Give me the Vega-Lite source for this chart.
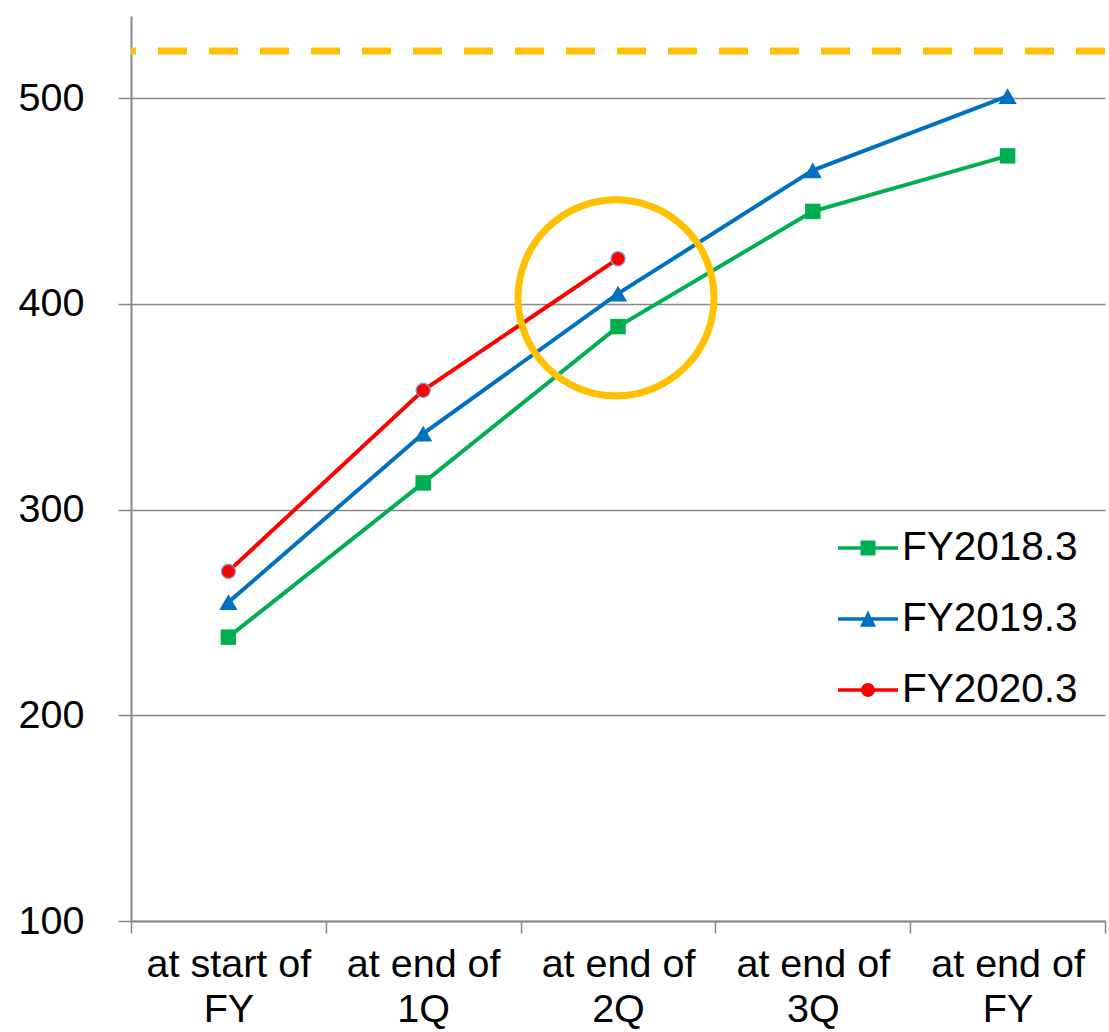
{
  "$schema": "https://vega.github.io/schema/vega-lite/v6.json",
  "width": 974,
  "height": 905,
  "autosize": {"type": "none"},
  "padding": {"left": 131, "top": 16, "right": 4, "bottom": 111},
  "background": "white",
  "config": {
    "view": {"stroke": null},
    "font": "Liberation Sans",
    "axis": {"labelFont": "Liberation Sans", "labelColor": "#000000", "labelFontSize": 39.5, "domainColor": "#898989", "tickColor": "#898989", "gridColor": "#898989"}
  },
  "datasets": {
    "series": [
      {"cat": "at start of|FY", "series": "FY2018.3", "v": 238},
      {"cat": "at end of|1Q", "series": "FY2018.3", "v": 313},
      {"cat": "at end of|2Q", "series": "FY2018.3", "v": 389},
      {"cat": "at end of|3Q", "series": "FY2018.3", "v": 445},
      {"cat": "at end of|FY", "series": "FY2018.3", "v": 472},
      {"cat": "at start of|FY", "series": "FY2019.3", "v": 255},
      {"cat": "at end of|1Q", "series": "FY2019.3", "v": 337},
      {"cat": "at end of|2Q", "series": "FY2019.3", "v": 405},
      {"cat": "at end of|3Q", "series": "FY2019.3", "v": 465},
      {"cat": "at end of|FY", "series": "FY2019.3", "v": 501},
      {"cat": "at start of|FY", "series": "FY2020.3", "v": 270},
      {"cat": "at end of|1Q", "series": "FY2020.3", "v": 358},
      {"cat": "at end of|2Q", "series": "FY2020.3", "v": 422}
    ]
  },
  "layer": [
    {
      "data": {"values": [{"target": 523}]},
      "mark": {"type": "rule", "color": "#FFC000", "strokeWidth": 7, "strokeDash": [29, 22]},
      "encoding": {"y": {"field": "target", "type": "quantitative"}}
    },
    {
      "data": {"name": "series"},
      "mark": {"type": "line", "strokeWidth": 4},
      "encoding": {
        "x": {
          "field": "cat", "type": "nominal", "sort": null,
          "scale": {"domain": ["at start of|FY", "at end of|1Q", "at end of|2Q", "at end of|3Q", "at end of|FY"], "paddingInner": 0, "paddingOuter": 0},
          "axis": {"title": null, "labelExpr": "split(datum.label, '|')", "labelAngle": 0, "labelBaseline": "top", "labelLineHeight": 45, "labelPadding": 12, "tickSize": 12, "tickWidth": 1.5, "tickBand": "extent", "domainWidth": 2, "labelLimit": 400, "grid": false}
        },
        "y": {
          "field": "v", "type": "quantitative",
          "scale": {"domain": [100, 540], "nice": false, "zero": false},
          "axis": {"title": null, "values": [100, 200, 300, 400, 500], "tickSize": 13, "tickWidth": 1.5, "labelPadding": 34, "domainWidth": 2, "gridWidth": 1.3}
        },
        "color": {
          "field": "series", "type": "nominal",
          "scale": {"domain": ["FY2018.3", "FY2019.3", "FY2020.3"], "range": ["#00B050", "#0070C0", "#FF0000"]},
          "legend": {
            "title": null, "orient": "none", "legendX": 707, "legendY": 502, "padding": 0,
            "labelFont": "Liberation Sans", "labelFontSize": 40.5, "labelColor": "#000000", "labelOffset": 4, "labelLimit": 400,
            "symbolSize": 3600, "rowPadding": 20,
            "encode": {
              "symbols": {
                "update": {
                  "shape": {"signal": "datum.value == 'FY2018.3' ? 'M-1,-0.06H1V0.06H-1Z M-0.25,-0.25H0.25V0.25H-0.25Z' : datum.value == 'FY2019.3' ? 'M-1,-0.06H1V0.06H-1Z M0,-0.28L0.27,0.26H-0.27Z' : 'M-1,-0.06H1V0.06H-1Z M0.23,0A0.23,0.23 0 1,1 -0.23,0A0.23,0.23 0 1,1 0.23,0Z'"},
                  "fill": {"scale": "color", "field": "value"},
                  "fillOpacity": {"value": 1},
                  "strokeWidth": {"value": 0}
                }
              }
            }
          }
        }
      }
    },
    {
      "data": {"name": "series"},
      "transform": [{"filter": "datum.series == 'FY2018.3'"}],
      "mark": {"type": "point", "shape": "square", "filled": true, "opacity": 1, "size": 240, "strokeWidth": 0},
      "encoding": {
        "x": {"field": "cat", "type": "nominal", "sort": null},
        "y": {"field": "v", "type": "quantitative"},
        "color": {"field": "series", "type": "nominal", "legend": null}
      }
    },
    {
      "data": {"name": "series"},
      "transform": [{"filter": "datum.series == 'FY2019.3'"}],
      "mark": {"type": "point", "shape": "triangle-up", "filled": true, "opacity": 1, "size": 330, "strokeWidth": 0},
      "encoding": {
        "x": {"field": "cat", "type": "nominal", "sort": null},
        "y": {"field": "v", "type": "quantitative"},
        "color": {"field": "series", "type": "nominal", "legend": null}
      }
    },
    {
      "data": {"name": "series"},
      "transform": [{"filter": "datum.series == 'FY2020.3'"}],
      "mark": {"type": "point", "shape": "circle", "filled": true, "opacity": 1, "size": 200, "stroke": "#7C9FD3", "strokeWidth": 1.3},
      "encoding": {
        "x": {"field": "cat", "type": "nominal", "sort": null},
        "y": {"field": "v", "type": "quantitative"},
        "fill": {"field": "series", "type": "nominal", "scale": {"domain": ["FY2018.3", "FY2019.3", "FY2020.3"], "range": ["#00B050", "#0070C0", "#FF0000"]}, "legend": null}
      }
    },
    {
      "data": {"values": [{"cat": "at end of|2Q", "v": 403}]},
      "mark": {"type": "point", "shape": "circle", "filled": false, "size": 38416, "stroke": "#FFC000", "strokeWidth": 7, "opacity": 1, "xOffset": -2},
      "encoding": {
        "x": {"field": "cat", "type": "nominal", "sort": null},
        "y": {"field": "v", "type": "quantitative"}
      }
    }
  ]
}
